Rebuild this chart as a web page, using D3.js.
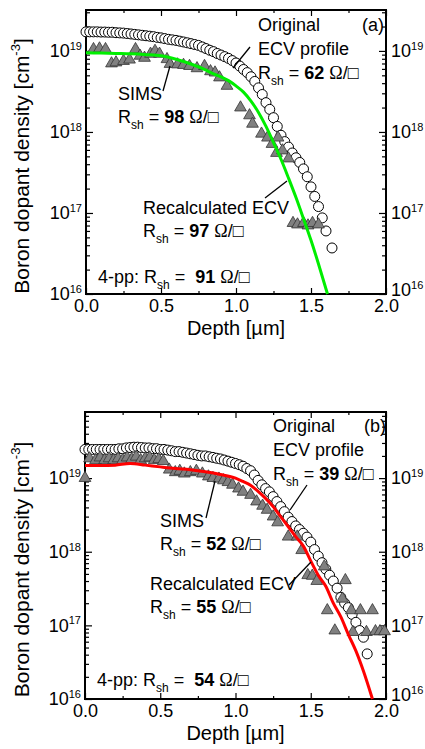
<!DOCTYPE html>
<html>
<head>
<meta charset="utf-8">
<script src="https://cdn.jsdelivr.net/npm/d3@7"></script>
<style>
  body { margin: 0; background: #fff; }
  svg { display: block; font-family: "Liberation Sans", Arial, sans-serif; }
</style>
</head>
<body>
<div id="chart"></div>
<script>
// depth axis ticks
const depthMajor = [0, 0.5, 1.0, 1.5, 2.0];
const depthMinor = [0.25, 0.75, 1.25, 1.75];
const decades = [1e16, 1e17, 1e18, 1e19];

// ---- panel (a) ----
const ecvDepthA = [0, 0.025, 0.05, 0.075, 0.1, 0.125, 0.15, 0.175, 0.2, 0.225, 0.25, 0.275, 0.3, 0.325, 0.35, 0.375, 0.4, 0.425, 0.45, 0.475,
  0.5, 0.525, 0.55, 0.575, 0.6, 0.625, 0.65, 0.675, 0.7, 0.725, 0.75, 0.775, 0.8, 0.825, 0.85, 0.875, 0.9, 0.925, 0.95, 0.975,
  1.0, 1.025, 1.05, 1.075, 1.1, 1.125, 1.15, 1.175, 1.2, 1.225, 1.25, 1.275, 1.3, 1.325, 1.35, 1.375, 1.4, 1.425, 1.45, 1.475,
  1.5, 1.525, 1.55, 1.575, 1.6, 1.64];
const ecvA = [1.72e19, 1.72e19, 1.72e19, 1.72e19, 1.71e19, 1.71e19, 1.7e19, 1.7e19, 1.68e19, 1.67e19, 1.66e19, 1.64e19, 1.62e19, 1.6e19, 1.58e19, 1.56e19, 1.54e19, 1.52e19, 1.5e19, 1.47e19,
  1.45e19, 1.42e19, 1.39e19, 1.37e19, 1.35e19, 1.32e19, 1.29e19, 1.26e19, 1.23e19, 1.2e19, 1.17e19, 1.12e19, 1.07e19, 1.02e19, 9.8e18, 9.3e18, 8.9e18, 8.5e18, 8.1e18, 7.6e18,
  7.1e18, 6.5e18, 5.9e18, 5.4e18, 4.8e18, 4.2e18, 3.5e18, 2.9e18, 2.3e18, 1.9e18, 1.5e18, 1.17e18, 9.1e17, 7.6e17, 6.5e17, 5.5e17, 4.8e17, 4.2e17, 3.5e17, 2.8e17,
  2.1e17, 1.6e17, 1.2e17, 8.7e16, 6.0e16, 3.7e16];

const simsDepthA = [0.05, 0.09, 0.13, 0.17, 0.2, 0.25, 0.29, 0.33, 0.36, 0.39, 0.43, 0.46, 0.49, 0.54, 0.56, 0.61, 0.65, 0.69, 0.74, 0.79,
  0.83, 0.86, 0.89, 0.94, 1.03, 1.09, 1.11, 1.17, 1.21, 1.24, 1.27, 1.28, 1.31, 1.35, 1.38, 1.41, 1.45, 1.48, 1.51, 1.55];
const simsA = [1.05e19, 1.07e19, 1.05e19, 7.0e18, 7.2e18, 7.5e18, 7.8e18, 1.05e19, 8.7e18, 8.2e18, 9.2e18, 1.0e19, 9.2e18, 7.9e18, 6.9e18, 6.8e18, 6.7e18, 6.5e18, 6.1e18, 6.5e18,
  5.6e18, 5.4e18, 4.7e18, 3.7e18, 2.0e18, 1.6e18, 1.26e18, 9.5e17, 8.5e17, 7.1e17, 5.5e17, 8.5e17, 5.9e17, 4.7e17, 7.5e16, 7.2e16, 7.5e16, 7.0e16, 7.5e16, 7.2e16];

const fitDepthA = [0, 0.1, 0.2, 0.3, 0.4, 0.5, 0.6, 0.7, 0.8, 0.85, 0.9, 0.95, 1.0, 1.05, 1.1, 1.15, 1.2, 1.25, 1.3, 1.35, 1.4, 1.45, 1.5, 1.55, 1.61];
const fitA = [9.5e18, 9.4e18, 9.3e18, 9.2e18, 9.0e18, 8.7e18, 7.9e18, 6.9e18, 5.8e18, 5.2e18, 4.8e18, 4.3e18, 3.7e18, 3.1e18, 2.4e18, 1.74e18, 1.17e18, 7.4e17, 4.6e17, 2.7e17, 1.55e17, 8.5e16, 4.6e16, 2.35e16, 1.0e16];

// ---- panel (b) ----
const ecvDepthB = [0, 0.025, 0.05, 0.075, 0.1, 0.125, 0.15, 0.175, 0.2, 0.225, 0.25, 0.275, 0.3, 0.325, 0.35, 0.375, 0.4, 0.425, 0.45, 0.475,
  0.5, 0.525, 0.55, 0.575, 0.6, 0.625, 0.65, 0.675, 0.7, 0.725, 0.75, 0.775, 0.8, 0.825, 0.85, 0.875, 0.9, 0.925, 0.95, 0.975,
  1.0, 1.025, 1.05, 1.075, 1.1, 1.125, 1.15, 1.175, 1.2, 1.225, 1.25, 1.275, 1.3, 1.325, 1.35, 1.375, 1.4, 1.425, 1.45, 1.475,
  1.5, 1.525, 1.55, 1.575, 1.6, 1.625, 1.65, 1.675, 1.7, 1.725, 1.75, 1.775, 1.8, 1.825, 1.85, 1.875];
const ecvB = [2.45e19, 2.45e19, 2.45e19, 2.45e19, 2.45e19, 2.45e19, 2.45e19, 2.45e19, 2.45e19, 2.5e19, 2.5e19, 2.57e19, 2.6e19, 2.63e19, 2.63e19, 2.6e19, 2.57e19, 2.57e19, 2.51e19, 2.51e19,
  2.45e19, 2.45e19, 2.4e19, 2.35e19, 2.29e19, 2.29e19, 2.24e19, 2.19e19, 2.14e19, 2.09e19, 2.04e19, 2.0e19, 2.0e19, 1.95e19, 1.91e19, 1.86e19, 1.82e19, 1.76e19, 1.7e19, 1.64e19,
  1.58e19, 1.52e19, 1.45e19, 1.35e19, 1.26e19, 1.1e19, 9.3e18, 8.1e18, 7.2e18, 6.5e18, 5.6e18, 4.8e18, 4.1e18, 3.5e18, 2.95e18, 2.57e18, 2.24e18, 2.0e18, 1.78e18, 1.58e18,
  1.35e18, 1.07e18, 8.7e17, 7.1e17, 5.8e17, 4.8e17, 4.0e17, 3.2e17, 2.4e17, 2.0e17, 1.74e17, 1.41e17, 1.1e17, 8.5e16, 6.9e16, 4.1e16];

const simsDepthB = [0, 0.03, 0.07, 0.1, 0.13, 0.16, 0.19, 0.22, 0.25, 0.28, 0.31, 0.34, 0.37, 0.4, 0.43, 0.46, 0.49, 0.52, 0.56, 0.6,
  0.63, 0.66, 0.7, 0.74, 0.78, 0.82, 0.85, 0.89, 0.92, 0.95, 0.98, 1.02, 1.05, 1.1, 1.14, 1.18, 1.21, 1.25, 1.28, 1.35,
  1.41, 1.44, 1.48, 1.51, 1.54, 1.59, 1.61, 1.66, 1.71, 1.73, 1.77, 1.78, 1.83, 1.87, 1.91, 1.93, 1.96, 1.99];
const simsB = [1.0e19, 1.85e19, 1.75e19, 1.9e19, 1.75e19, 1.85e19, 1.75e19, 1.85e19, 1.75e19, 1.9e19, 1.8e19, 1.95e19, 1.75e19, 1.85e19, 1.9e19, 1.75e19, 1.8e19, 1.7e19, 1.3e19, 1.2e19,
  1.25e19, 1.15e19, 1.2e19, 1.25e19, 1.15e19, 1.05e19, 1.0e19, 9.8e18, 9.3e18, 8.8e18, 8.1e18, 7.2e18, 6.5e18, 5.9e18, 4.8e18, 4.2e18, 3.7e18, 3.0e18, 2.5e18, 1.6e18,
  1.6e18, 1.05e18, 4.8e17, 4.7e17, 4.0e17, 6.3e17, 1.6e17, 8.5e16, 2.3e17, 4.1e17, 1.6e17, 8.1e16, 1.6e17, 8.1e16, 1.6e17, 8.3e16, 8.3e16, 8.3e16];

const fitDepthB = [0, 0.1, 0.2, 0.3, 0.4, 0.5, 0.6, 0.7, 0.8, 0.9, 1.0, 1.05, 1.1, 1.15, 1.2, 1.25, 1.3, 1.35, 1.4, 1.45,
  1.5, 1.55, 1.6, 1.65, 1.7, 1.75, 1.8, 1.85, 1.91];
const fitB = [1.48e19, 1.48e19, 1.5e19, 1.58e19, 1.5e19, 1.42e19, 1.35e19, 1.3e19, 1.22e19, 1.12e19, 1.0e19, 9.0e18, 8.0e18, 6.6e18, 5.3e18, 4.1e18, 3.0e18, 2.2e18, 1.6e18, 1.2e18,
  7.5e17, 4.8e17, 3.4e17, 2.0e17, 1.3e17, 7.5e16, 4.5e16, 2.4e16, 1.0e16];

const sheetRes = {
  a: { ecv: "62", sims: "98", recalc: "97", fourpp: "91" },
  b: { ecv: "39", sims: "52", recalc: "55", fourpp: "54" }
};

const W = 425, H = 749;
const svg = d3.select("#chart").append("svg").attr("width", W).attr("height", H);

function addRsh(g, x, y, value, prefix) {
  const t = g.append("text").attr("x", x).attr("y", y).style("white-space", "pre");
  if (prefix) t.append("tspan").text(prefix);
  t.append("tspan").text("R");
  t.append("tspan").attr("font-size", 12).attr("dy", 6).text("sh");
  t.append("tspan").attr("dy", -6).text(prefix ? " =  " : " = ");
  t.append("tspan").attr("font-weight", "bold").text(value);
  t.append("tspan").text(" ");
  t.append("tspan").attr("font-family", "'Liberation Serif', serif").text("\u03A9");
  t.append("tspan").text("/\u25A1");
}

function decadeLabel(sel) {
  sel.text(null);
  sel.append("tspan").text("10");
  sel.append("tspan").attr("font-size", 11).attr("dy", "-0.65em").text(d => Math.round(Math.log10(d)));
}

function panel(p) {
  const x = d3.scaleLinear().domain([0, 2]).range([p.left, p.right]);
  const y = d3.scaleLog().domain([1e16, p.yMax]).range([p.bottom, p.top]);
  const g = svg.append("g");

  const minorY = [];
  for (let k = 16; k <= 19; k++) {
    for (let m = 2; m <= 9; m++) {
      const v = m * Math.pow(10, k);
      if (v < p.yMax) minorY.push(v);
    }
  }

  const styleAxis = (a) => {
    a.select(".domain").remove();
    a.attr("font-family", null).attr("font-size", 18);
    a.selectAll(".tick line").attr("stroke", "#000").attr("stroke-width", 1.2);
  };

  // bottom + top
  g.append("g").attr("transform", `translate(0,${p.bottom})`)
    .call(d3.axisBottom(x).tickValues(depthMajor).tickSize(-6).tickPadding(5).tickFormat(d3.format(".1f")))
    .call(styleAxis);
  g.append("g").attr("transform", `translate(0,${p.bottom})`)
    .call(d3.axisBottom(x).tickValues(depthMinor).tickSize(-3).tickFormat(""))
    .call(styleAxis);
  g.append("g").attr("transform", `translate(0,${p.top})`)
    .call(d3.axisTop(x).tickValues(depthMajor).tickSize(-6).tickFormat(""))
    .call(styleAxis);
  g.append("g").attr("transform", `translate(0,${p.top})`)
    .call(d3.axisTop(x).tickValues(depthMinor).tickSize(-3).tickFormat(""))
    .call(styleAxis);

  // left + right
  g.append("g").attr("transform", `translate(${p.left},0)`)
    .call(d3.axisLeft(y).tickValues(decades).tickSize(-7).tickPadding(4))
    .call(styleAxis)
    .call(a => a.selectAll(".tick text").call(decadeLabel));
  g.append("g").attr("transform", `translate(${p.left},0)`)
    .call(d3.axisLeft(y).tickValues(minorY).tickSize(-4).tickFormat(""))
    .call(styleAxis);
  g.append("g").attr("transform", `translate(${p.right},0)`)
    .call(d3.axisRight(y).tickValues(decades).tickSize(-7).tickPadding(5))
    .call(styleAxis)
    .call(a => a.selectAll(".tick text").call(decadeLabel))
    .call(a => a.selectAll(".tick").filter(d => d === 1e16).select("text").attr("dy", "0.1em"));
  g.append("g").attr("transform", `translate(${p.right},0)`)
    .call(d3.axisRight(y).tickValues(minorY).tickSize(-4).tickFormat(""))
    .call(styleAxis);

  g.append("rect")
    .attr("x", p.left).attr("y", p.top)
    .attr("width", p.right - p.left).attr("height", p.bottom - p.top)
    .attr("fill", "none").attr("stroke", "#000").attr("stroke-width", 2);

  // ECV circles
  g.append("g").selectAll("circle")
    .data(p.ecvDepth.map((d, i) => [d, p.ecv[i]]))
    .join("circle")
    .attr("cx", d => x(d[0])).attr("cy", d => y(d[1])).attr("r", 5)
    .attr("fill", "#fff").attr("stroke", "#000").attr("stroke-width", 1);

  // SIMS triangles
  const tri = d3.symbol(d3.symbolTriangle, 60);
  g.append("g").selectAll("path")
    .data(p.simsDepth.map((d, i) => [d, p.sims[i]]))
    .join("path")
    .attr("d", tri)
    .attr("transform", d => `translate(${x(d[0])},${y(d[1])})`)
    .attr("fill", "#808080").attr("stroke", "#333").attr("stroke-width", 0.8);

  // recalculated ECV
  const line = d3.line().curve(d3.curveMonotoneX).x(d => x(d[0])).y(d => y(d[1]));
  g.append("path")
    .datum(p.fitDepth.map((d, i) => [d, p.fit[i]]))
    .attr("d", line)
    .attr("fill", "none").attr("stroke", p.color).attr("stroke-width", 3);

  // titles
  g.append("text")
    .attr("x", (p.left + p.right) / 2).attr("y", p.bottom + 41)
    .attr("text-anchor", "middle").attr("font-size", 20)
    .text("Depth [\u00B5m]");
  const yt = g.append("text")
    .attr("transform", `translate(29,${(p.top + p.bottom) / 2 + 14}) rotate(-90)`)
    .attr("text-anchor", "middle").attr("font-size", 21);
  yt.append("tspan").text("Boron dopant density [cm");
  yt.append("tspan").attr("font-size", 13).attr("dy", -9).text("-3");
  yt.append("tspan").attr("dy", 9).text("]");

  // annotations
  const a = g.append("g").attr("font-size", 18).attr("fill", "#000");
  const n = p.notes;
  a.append("text").attr("x", n.label[0]).attr("y", n.label[1]).text(p.label);
  a.append("text").attr("x", n.ecv[0]).attr("y", n.ecv[1]).text("Original");
  a.append("text").attr("x", n.ecv[0]).attr("y", n.ecv[1] + 24).text("ECV profile");
  addRsh(a, n.ecv[0], n.ecv[1] + 48, p.rsh.ecv);
  a.append("text").attr("x", n.sims[0]).attr("y", n.sims[1]).text("SIMS");
  addRsh(a, n.sims[0], n.sims[1] + 23, p.rsh.sims);
  a.append("text").attr("x", n.recalc[0]).attr("y", n.recalc[1]).text("Recalculated ECV");
  addRsh(a, n.recalc[0], n.recalc[1] + 23, p.rsh.recalc);
  addRsh(a, n.fourpp[0], n.fourpp[1], p.rsh.fourpp, "4-pp: ");

  g.append("g").selectAll("line")
    .data(n.leaders)
    .join("line")
    .attr("x1", d => d[0]).attr("y1", d => d[1]).attr("x2", d => d[2]).attr("y2", d => d[3])
    .attr("stroke", "#000").attr("stroke-width", 1.3);
}

panel({
  left: 86, right: 386, top: 10, bottom: 294, yMax: 3.2e19,
  ecvDepth: ecvDepthA, ecv: ecvA, simsDepth: simsDepthA, sims: simsA,
  fitDepth: fitDepthA, fit: fitA, color: "#00ee00", label: "(a)", rsh: sheetRes.a,
  notes: {
    label: [362, 31], ecv: [258, 31], sims: [118, 100], recalc: [143, 214], fourpp: [98, 283],
    leaders: [[250, 47, 233, 68], [163, 91, 170, 66], [265, 198, 287, 181]]
  }
});

panel({
  left: 85, right: 386, top: 412, bottom: 699, yMax: 7.9e19,
  ecvDepth: ecvDepthB, ecv: ecvB, simsDepth: simsDepthB, sims: simsB,
  fitDepth: fitDepthB, fit: fitB, color: "#ff0000", label: "(b)", rsh: sheetRes.b,
  notes: {
    label: [364, 432], ecv: [273, 432], sims: [160, 527], recalc: [150, 590], fourpp: [97, 686],
    leaders: [[307, 485, 290, 510], [206, 518, 215, 481], [289, 585, 311, 562]]
  }
});
</script>
</body>
</html>
